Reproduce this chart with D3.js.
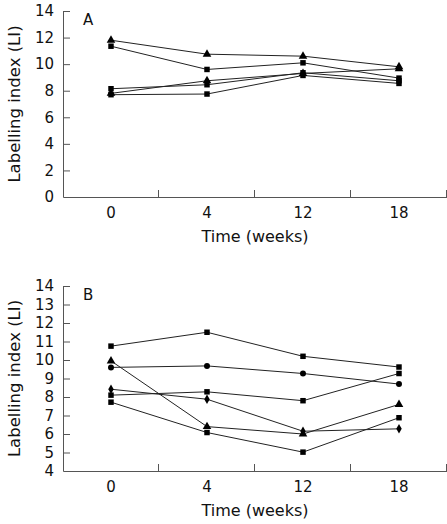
<!DOCTYPE html>
<html><head><meta charset="utf-8">
<script src="https://cdn.jsdelivr.net/npm/d3@7"></script>
<style>body{margin:0;background:#fff}svg{display:block}text{font-family:"DejaVu Sans",sans-serif;fill:#111}</style>
</head><body><svg id="c" width="447" height="524"></svg>
<script>
const weeks = ["0","4","12","18"];
// Panel A series
const seriesA = [
  {marker:"triangle", values:[11.8,10.75,10.6,9.8]},
  {marker:"square",   values:[11.35,9.6,10.1,8.95]},
  {marker:"square",   values:[8.15,8.45,9.35,8.75]},
  {marker:"triangle", values:[7.8,8.75,9.3,9.65]},
  {marker:"square",   values:[7.7,7.75,9.15,8.55]}
];
// Panel B series
const seriesB = [
  {marker:"square",   values:[10.75,11.5,10.2,9.62]},
  {marker:"circle",   values:[9.6,9.68,9.27,8.7]},
  {marker:"triangle", values:[9.95,6.4,6.0,7.6]},
  {marker:"diamond",  values:[8.42,7.88,6.15,6.28]},
  {marker:"square",   values:[8.1,8.28,7.8,9.27]},
  {marker:"square",   values:[7.72,6.08,5.02,6.88]}
];
const yTicksA = [0,2,4,6,8,10,12,14];
const yTicksB = [4,5,6,7,8,9,10,11,12,13,14];

const svg = d3.select("#c");
const FONT = '"DejaVu Sans",sans-serif';
const symbolMap = {
  square:[d3.symbolSquare,30], triangle:[d3.symbolTriangle,32],
  circle:[d3.symbolCircle,28], diamond:[d3.symbolDiamond,26]
};

function panel(cfg){
  const g = svg.append("g");
  const x = d3.scaleBand().domain(weeks).range([63,447]).padding(0);
  const y = d3.scaleLinear().domain(cfg.domain).range([cfg.bottom,cfg.top]);
  const cx = d => x(d)+x.bandwidth()/2;

  // y axis
  const ya = g.append("g").attr("transform","translate(63,0)")
    .call(d3.axisLeft(y).tickValues(cfg.ticks).tickSizeInner(-7).tickSizeOuter(0).tickPadding(9).tickFormat(d3.format("d")));
  ya.selectAll("text").style("font-size","15px").style("font-family",FONT).attr("fill","#111");
  ya.selectAll("line,path").attr("stroke","#555");
  ya.select(".tick:first-of-type line").remove();

  // x axis
  const xa = g.append("g").attr("transform",`translate(0,${cfg.bottom})`)
    .call(d3.axisBottom(x).tickSize(0).tickPadding(10));
  xa.selectAll("text").style("font-size","15px").style("font-family",FONT).attr("fill","#111");
  xa.select(".domain").attr("stroke","#555");
  g.append("g").selectAll("line").data(weeks).join("line")
    .attr("x1",d=>x(d)+x.bandwidth()-0.5).attr("x2",d=>x(d)+x.bandwidth()-0.5)
    .attr("y1",cfg.bottom).attr("y2",cfg.bottom-7).attr("stroke","#555");

  // lines
  const line = d3.line().x((v,i)=>cx(weeks[i])).y(v=>y(v));
  g.append("g").selectAll("path").data(cfg.series).join("path")
    .attr("d",s=>line(s.values)).attr("fill","none").attr("stroke","#222").attr("stroke-width",1);
  // markers
  cfg.series.forEach(s=>{
    const [t,sz] = symbolMap[s.marker];
    g.append("g").selectAll("path").data(s.values).join("path")
      .attr("transform",(v,i)=>`translate(${cx(weeks[i])},${y(v)})`)
      .attr("d",d3.symbol().type(t).size(sz)).attr("fill","#000");
  });

  // labels
  g.append("text").attr("x",83).attr("y",cfg.top+14).style("font-size","15px").text(cfg.letter);
  g.append("text").attr("x",255).attr("y",cfg.bottom+45).attr("text-anchor","middle").style("font-size","16px").text("Time (weeks)");
  g.append("text").attr("transform",`translate(20,${(cfg.top+cfg.bottom)/2}) rotate(-90)`)
    .attr("text-anchor","middle").style("font-size","16.5px").text("Labelling index (LI)");
}
panel({domain:[0,14],top:11,bottom:197,ticks:yTicksA,series:seriesA,letter:"A"});
panel({domain:[4,14],top:286,bottom:471,ticks:yTicksB,series:seriesB,letter:"B"});
</script></body></html>
